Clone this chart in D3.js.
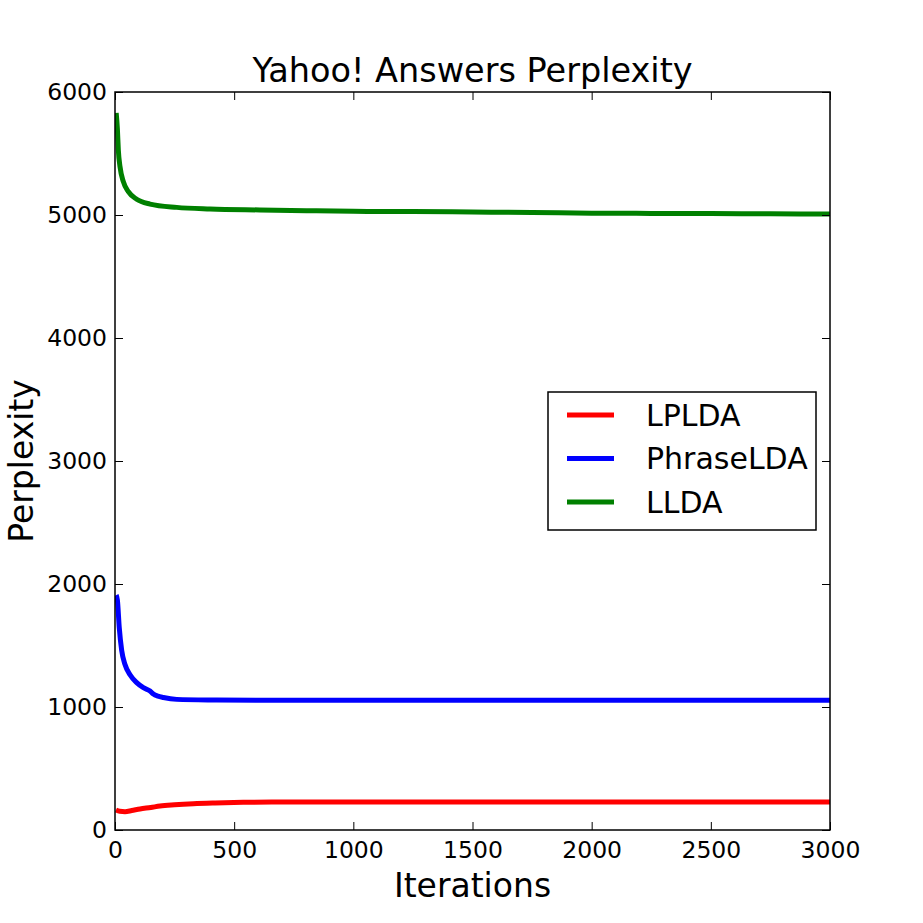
<!DOCTYPE html>
<html>
<head>
<meta charset="utf-8">
<script src="https://cdn.jsdelivr.net/npm/d3@7"></script>
<style>
  body { margin: 0; background: #fff; }
  svg text { font-family: "DejaVu Sans", sans-serif; fill: #000; }
</style>
</head>
<body>
<div id="chart"></div>
<script>

// series (iteration, perplexity)
const seriesNames = ["LPLDA", "PhraseLDA", "LLDA"];
const seriesColors = ["#ff0000", "#0000ff", "#008000"];

const lpldaIter = [4, 20, 42, 70, 105, 150, 189, 250, 329, 420, 538, 700, 818, 1000, 1224, 1500, 2000, 2500, 3000];
const lpldaVal  = [163, 152, 149, 158, 171, 183, 195, 205, 214, 220, 225, 227, 228, 228, 228, 228, 228, 228, 227];

const phraseIter = [5, 10, 18, 28, 42, 63, 91, 119, 147, 161, 180, 203, 259, 399, 600, 1000, 1500, 2000, 2500, 3000];
const phraseVal  = [1910, 1870, 1642, 1460, 1345, 1262, 1198, 1157, 1130, 1105, 1088, 1077, 1062, 1057, 1055, 1055, 1055, 1055, 1055, 1055];

const lldaIter = [5, 10, 14, 21, 35, 56, 91, 147, 259, 399, 608, 804, 1000, 1250, 1500, 1750, 2000, 2250, 2500, 2750, 3000];
const lldaVal  = [5830, 5700, 5528, 5393, 5271, 5190, 5128, 5089, 5062, 5049, 5041, 5035, 5030, 5028, 5024, 5020, 5015, 5013, 5012, 5010, 5008];

const xTicks = [0, 500, 1000, 1500, 2000, 2500, 3000];
const yTicks = [0, 1000, 2000, 3000, 4000, 5000, 6000];

class PerplexityChart {

    constructor(_parentElement) {
        this.parentElement = _parentElement;
        this.data = [
            { name: seriesNames[0], color: seriesColors[0], values: d3.zip(lpldaIter, lpldaVal) },
            { name: seriesNames[1], color: seriesColors[1], values: d3.zip(phraseIter, phraseVal) },
            { name: seriesNames[2], color: seriesColors[2], values: d3.zip(lldaIter, lldaVal) }
        ];
        this.initVis();
    }

    initVis() {
        let vis = this;

        vis.margin = { top: 92, right: 93, bottom: 93, left: 115 };
        vis.width = 923 - vis.margin.left - vis.margin.right;
        vis.height = 923 - vis.margin.top - vis.margin.bottom;

        vis.svg = d3.select("#" + vis.parentElement).append("svg")
            .attr("width", 923)
            .attr("height", 923)
            .append("g")
            .attr("transform", "translate(" + vis.margin.left + "," + vis.margin.top + ")");

        vis.x = d3.scaleLinear().domain([0, 3000]).range([0, vis.width]);
        vis.y = d3.scaleLinear().domain([0, 6000]).range([vis.height, 0]);

        // lines
        vis.line = d3.line()
            .x(d => vis.x(d[0]))
            .y(d => vis.y(d[1]))
            .curve(d3.curveMonotoneX);

        vis.svg.append("clipPath").attr("id", "clip")
            .append("rect").attr("width", vis.width).attr("height", vis.height);

        vis.svg.selectAll(".series")
            .data(vis.data)
            .enter().append("path")
            .attr("class", "series")
            .attr("clip-path", "url(#clip)")
            .attr("d", d => vis.line(d.values))
            .attr("fill", "none")
            .attr("stroke", d => d.color)
            .attr("stroke-width", 5)
            .attr("stroke-linejoin", "round");

        // axes, ticks pointing inward
        const tickLen = 8;
        const fmt = d3.format("d");
        vis.svg.append("g")
            .attr("class", "x-axis axis")
            .attr("transform", "translate(0," + vis.height + ")")
            .call(d3.axisBottom(vis.x).tickValues(xTicks).tickFormat(fmt).tickSize(-tickLen).tickSizeOuter(0).tickPadding(11));

        vis.svg.append("g")
            .attr("class", "y-axis axis")
            .call(d3.axisLeft(vis.y).tickValues(yTicks).tickFormat(fmt).tickSize(-tickLen).tickSizeOuter(0).tickPadding(8));

        vis.svg.append("g")
            .attr("class", "axis")
            .call(d3.axisTop(vis.x).tickValues(xTicks).tickSize(-tickLen).tickSizeOuter(0).tickFormat(""));

        vis.svg.append("g")
            .attr("class", "axis")
            .attr("transform", "translate(" + vis.width + ",0)")
            .call(d3.axisRight(vis.y).tickValues(yTicks).tickSize(-tickLen).tickSizeOuter(0).tickFormat(""));

        vis.svg.selectAll(".axis .domain").remove();
        vis.svg.selectAll(".axis line").attr("stroke", "#000").attr("stroke-width", 1);
        vis.svg.selectAll(".axis text")
            .style("font-size", "23.5px")
            .style("font-family", "DejaVu Sans, sans-serif");

        // frame
        vis.svg.append("rect")
            .attr("width", vis.width)
            .attr("height", vis.height)
            .attr("fill", "none")
            .attr("stroke", "#000")
            .attr("stroke-width", 1.5);

        // titles
        vis.svg.append("text")
            .attr("x", vis.width / 2)
            .attr("y", -10)
            .attr("text-anchor", "middle")
            .style("font-size", "33.5px")
            .text("Yahoo! Answers Perplexity");

        vis.svg.append("text")
            .attr("x", vis.width / 2)
            .attr("y", vis.height + 67)
            .attr("text-anchor", "middle")
            .style("font-size", "33px")
            .text("Iterations");

        vis.svg.append("text")
            .attr("transform", "translate(" + (33 - vis.margin.left) + "," + (vis.height / 2) + ") rotate(-90)")
            .attr("text-anchor", "middle")
            .style("font-size", "33px")
            .text("Perplexity");

        // legend
        vis.legend = vis.svg.append("g")
            .attr("class", "legend")
            .attr("transform", "translate(" + (548 - vis.margin.left) + "," + (392 - vis.margin.top) + ")");

        vis.legend.append("rect")
            .attr("width", 268)
            .attr("height", 138)
            .attr("fill", "#fff")
            .attr("stroke", "#000")
            .attr("stroke-width", 1.5);

        let items = vis.legend.selectAll(".item")
            .data(vis.data)
            .enter().append("g")
            .attr("class", "item")
            .attr("transform", (d, i) => "translate(0," + (23 + i * 43.5) + ")");

        items.append("line")
            .attr("x1", 19).attr("x2", 66)
            .attr("stroke", d => d.color)
            .attr("stroke-width", 5);

        items.append("text")
            .attr("x", 98)
            .attr("dy", "0.36em")
            .style("font-size", "30px")
            .text(d => d.name);
    }
}

new PerplexityChart("chart");

</script>
</body>
</html>
